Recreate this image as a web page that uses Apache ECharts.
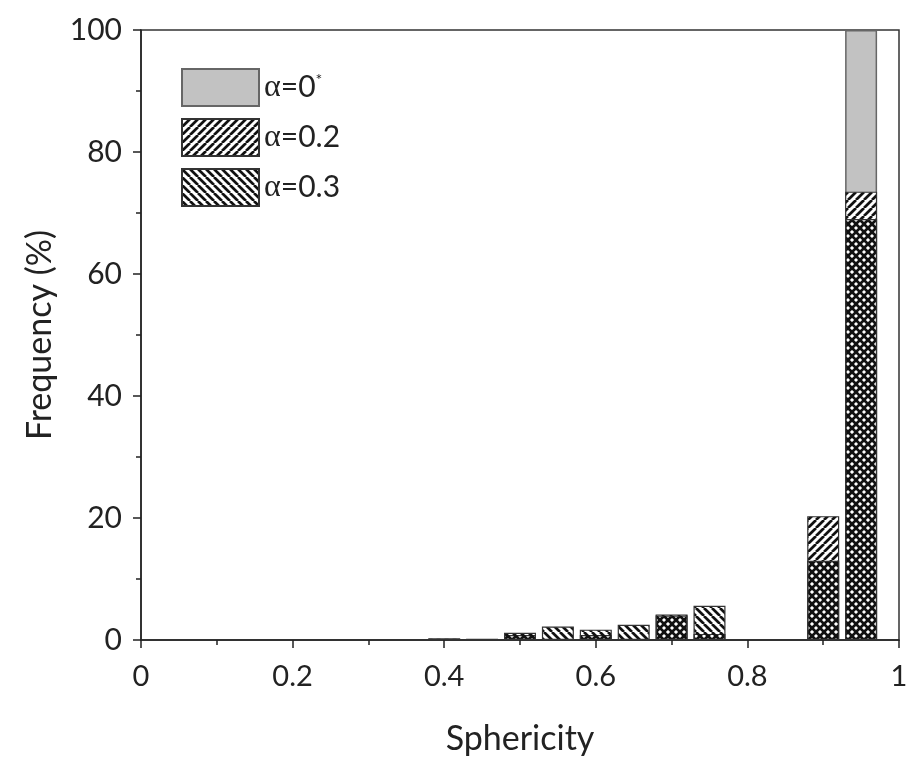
<!DOCTYPE html>
<html>
<head>
<meta charset="utf-8">
<script src="https://cdn.jsdelivr.net/npm/echarts@6/dist/echarts.min.js"></script>
<style>html,body{margin:0;padding:0;background:#fff}#c{width:912px;height:768px}</style>
</head>
<body>
<div id="c"></div>
<script>
// Data
const sphericity = [0.4, 0.45, 0.5, 0.55, 0.6, 0.65, 0.7, 0.75, 0.9, 0.95];
const alpha0  = [null, null, null, null, null, null, null, null, null, 100];
const alpha02 = [null, null, 0.8, null, 0.8, null, 4.0, 1.0, 20.3, 73.5];
const alpha03 = [0.3, 0.2, 1.2, 2.2, 1.7, 2.5, 4.2, 5.6, 13.0, 69.0];
const seriesNames = ['α=0*', 'α=0.2', 'α=0.3'];
const xTicks = [0, 0.2, 0.4, 0.6, 0.8, 1];
const yTicks = [0, 20, 40, 60, 80, 100];

function pairs(vals) {
  return sphericity.map((x, i) => vals[i] == null ? null : [x, vals[i]]).filter(Boolean);
}

function hatch(forward, bg) {
  const s = 8;
  const c = document.createElement('canvas');
  c.width = s; c.height = s;
  const ctx = c.getContext('2d');
  if (bg) { ctx.fillStyle = bg; ctx.fillRect(0, 0, s, s); }
  ctx.strokeStyle = '#111';
  ctx.lineWidth = 2.7;
  ctx.beginPath();
  for (let k = -1; k <= 1; k++) {
    if (forward) { ctx.moveTo(k * s, s); ctx.lineTo(k * s + s, 0); }
    else { ctx.moveTo(k * s, 0); ctx.lineTo(k * s + s, s); }
  }
  ctx.stroke();
  return { image: c, repeat: 'repeat' };
}

const FONT = 'Lato';
const chart = echarts.init(document.getElementById('c'), null, { renderer: 'canvas' });
chart.setOption({
  animation: false,
  backgroundColor: '#fff',
  grid: { left: 141, right: 13, top: 30, bottom: 128, show: true, borderColor: '#333', borderWidth: 1.5, backgroundColor: 'transparent' },
  legend: {
    orient: 'vertical', left: 181, top: 68, padding: 0,
    itemWidth: 77, itemHeight: 37, itemGap: 11,
    data: seriesNames.map(n => ({ name: n, icon: 'rect' })),
    formatter: function (n) {
      if (n === 'α=0*') return '{a|α}=0{s|*}';
      return '{a|α}=' + n.slice(2);
    },
    textStyle: {
      fontFamily: FONT, fontSize: 30, color: '#222', padding: [0, 0, 0, 0],
      rich: {
        a: { fontFamily: 'Liberation Serif', fontSize: 32, color: '#222' },
        s: { fontFamily: FONT, fontSize: 16, color: '#222', verticalAlign: 'top', padding: [0, 0, 14, 0] }
      }
    }
  },
  xAxis: {
    type: 'value', min: 0, max: 1, interval: 0.2,
    name: 'Sphericity', nameLocation: 'middle', nameGap: 82,
    nameTextStyle: { fontFamily: FONT, fontSize: 34, color: '#222' },
    axisLine: { onZero: false, lineStyle: { color: '#222', width: 1.5 } },
    axisTick: { show: true, length: 8, lineStyle: { color: '#222', width: 1.5 } },
    minorTick: { show: true, splitNumber: 2, length: 5, lineStyle: { color: '#222', width: 1.5 } },
    axisLabel: { fontFamily: FONT, fontSize: 29, color: '#222', margin: 22,
      formatter: v => { const t = xTicks.find(x => Math.abs(x - v) < 1e-9); return t === undefined ? '' : String(t); } },
    splitLine: { show: false }
  },
  yAxis: {
    type: 'value', min: 0, max: 100, interval: 20,
    name: 'Frequency (%)', nameLocation: 'middle', nameGap: 84,
    nameTextStyle: { fontFamily: FONT, fontSize: 34, color: '#222' },
    axisLine: { show: true, lineStyle: { color: '#222', width: 1.5 } },
    axisTick: { show: true, length: 8, lineStyle: { color: '#222', width: 1.5 } },
    minorTick: { show: true, splitNumber: 2, length: 5, lineStyle: { color: '#222', width: 1.5 } },
    axisLabel: { fontFamily: FONT, fontSize: 30, color: '#222', margin: 19,
      formatter: v => { const t = yTicks.find(y => Math.abs(y - v) < 1e-9); return t === undefined ? '' : String(t); } },
    splitLine: { show: false }
  },
  series: [
    { name: seriesNames[0], type: 'bar', barWidth: 32, barGap: '-100%', data: pairs(alpha0),
      itemStyle: { color: '#c2c2c2', borderColor: '#666', borderWidth: 1.5 } },
    { name: seriesNames[1], type: 'bar', barWidth: 32, barGap: '-100%', data: pairs(alpha02),
      itemStyle: { color: hatch(true, '#ffffff'), borderColor: '#333', borderWidth: 1.2 } },
    { name: seriesNames[2], type: 'bar', barWidth: 32, barGap: '-100%', data: pairs(alpha03),
      itemStyle: { color: hatch(false, null), borderColor: '#333', borderWidth: 1.2 } }
  ]
});
</script>
</body>
</html>
